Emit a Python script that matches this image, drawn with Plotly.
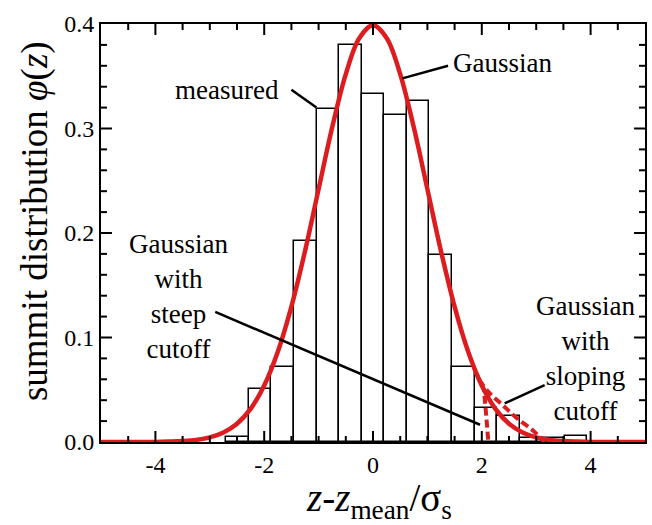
import plotly.graph_objects as go

# ---- data ----
bin_centers = [-2.49, -2.075, -1.66, -1.245, -0.83, -0.415, 0.0, 0.415, 0.83,
               1.245, 1.66, 2.075, 2.49, 2.905, 3.32, 3.735]
measured = [0.005, 0.051, 0.072, 0.192, 0.319, 0.380, 0.333, 0.313, 0.326,
            0.179, 0.072, 0.033, 0.025, 0.004, 0.004, 0.006]
bin_width = 0.415

gauss_x = [-5.0, -4.5, -4.0, -3.75, -3.5, -3.25, -3.0, -2.75, -2.5, -2.25, -2.0,
           -1.75, -1.5, -1.25, -1.0, -0.75, -0.5, -0.25, 0.0, 0.25, 0.5, 0.75,
           1.0, 1.25, 1.5, 1.75, 2.0, 2.25, 2.5, 2.75, 3.0, 3.25, 3.5, 3.75,
           4.0, 4.5, 5.0]
gauss_y = [0.0, 0.0, 0.0001, 0.0004, 0.0009, 0.0020, 0.0044, 0.0091, 0.0175,
           0.0317, 0.0540, 0.0863, 0.1295, 0.1826, 0.2420, 0.3011, 0.3521,
           0.3867, 0.3989, 0.3867, 0.3521, 0.3011, 0.2420, 0.1826, 0.1295,
           0.0863, 0.0540, 0.0317, 0.0175, 0.0091, 0.0044, 0.0020, 0.0009,
           0.0004, 0.0001, 0.0, 0.0]

steep_x = [1.9, 2.0, 2.04, 2.08, 2.12]
steep_y = [0.0656, 0.054, 0.050, 0.026, 0.0]

slope_x = [1.95, 2.12, 2.39, 2.64, 2.94, 3.08, 3.15]
slope_y = [0.0596, 0.048, 0.035, 0.023, 0.011, 0.004, 0.0]

x_tick_vals = [-4, -2, 0, 2, 4]
x_tick_text = ["-4", "-2", "0", "2", "4"]
y_tick_vals = [0.0, 0.1, 0.2, 0.3, 0.4]
y_tick_text = ["0.0", "0.1", "0.2", "0.3", "0.4"]
x_range = [-5, 5]
y_range = [0, 0.4]
x_minor_step = 0.5
y_minor_step = 0.02

RED = "#dc1c1e"
FONT = "Liberation Serif"

W, H = 652, 525
M = dict(l=101, r=5, t=24, b=83)
plot_w = W - M["l"] - M["r"]
plot_h = H - M["t"] - M["b"]
# data units per pixel, used to size the inward tick marks
x_per_px = (x_range[1] - x_range[0]) / plot_w
y_per_px = (y_range[1] - y_range[0]) / plot_h

fig = go.Figure()
fig.add_trace(go.Bar(x=bin_centers, y=measured, width=bin_width,
                     marker=dict(color="white", line=dict(color="black", width=1.5)),
                     showlegend=False))
fig.add_trace(go.Scatter(x=gauss_x, y=gauss_y, mode="lines",
                         line=dict(color=RED, width=4.5, shape="spline"),
                         showlegend=False))
fig.add_trace(go.Scatter(x=steep_x, y=steep_y, mode="lines",
                         line=dict(color=RED, width=4, dash="8px,4px"),
                         showlegend=False))
fig.add_trace(go.Scatter(x=slope_x, y=slope_y, mode="lines",
                         line=dict(color=RED, width=4, dash="8px,4px", shape="spline"),
                         showlegend=False))

# pointer lines
pointers = [(-1.50, 0.337, -1.04, 0.320),
            (1.38, 0.360, 0.54, 0.348),
            (-2.90, 0.1245, 1.967, 0.0165),
            (3.155, 0.0545, 2.42, 0.037)]
for x0, y0, x1, y1 in pointers:
    fig.add_shape(type="line", xref="x", yref="y", x0=x0, y0=y0, x1=x1, y1=y1,
                  line=dict(color="black", width=2.5))


# inward tick marks on all four sides
def steps(lo, hi, step):
    n = int(round((hi - lo) / step))
    return [round(lo + i * step, 6) for i in range(1, n)]


tick_line = dict(color="black", width=2)
for v in steps(x_range[0], x_range[1], x_minor_step):
    px = 11 if any(abs(v - m) < 1e-9 for m in x_tick_vals) else 6
    d = px * y_per_px
    fig.add_shape(type="line", xref="x", yref="y", x0=v, x1=v,
                  y0=y_range[0], y1=y_range[0] + d, line=tick_line)
    fig.add_shape(type="line", xref="x", yref="y", x0=v, x1=v,
                  y0=y_range[1], y1=y_range[1] - d, line=tick_line)
for v in steps(y_range[0], y_range[1], y_minor_step):
    px = 11 if any(abs(v - m) < 1e-9 for m in y_tick_vals) else 6
    d = px * x_per_px
    fig.add_shape(type="line", xref="x", yref="y", y0=v, y1=v,
                  x0=x_range[0], x1=x_range[0] + d, line=tick_line)
    fig.add_shape(type="line", xref="x", yref="y", y0=v, y1=v,
                  x0=x_range[1], x1=x_range[1] - d, line=tick_line)

tf = dict(family=FONT, size=27, color="black")
fig.add_annotation(x=-2.69, y=0.337, text="measured", showarrow=False,
                   xanchor="center", yanchor="middle", font=tf)
fig.add_annotation(x=1.425, y=0.3627, text="Gaussian", showarrow=False,
                   xanchor="left", yanchor="middle", font=tf)
fig.add_annotation(x=-3.58, y=0.139, text="Gaussian<br>with<br>steep<br>cutoff",
                   showarrow=False, xanchor="center", yanchor="middle", font=tf)
fig.add_annotation(x=3.91, y=0.080, text="Gaussian<br>with<br>sloping<br>cutoff",
                   showarrow=False, xanchor="center", yanchor="middle", font=tf)

# axis titles
fig.add_annotation(xref="paper", yref="paper", x=0.511, y=-0.14,
                   text="<i>z</i>-<i>z</i><sub>mean</sub>/σ<sub>s</sub>",
                   showarrow=False, xanchor="center", yanchor="middle",
                   font=dict(family=FONT, size=39, color="black"))
fig.add_annotation(xref="paper", yref="paper", x=-0.121, y=0.529,
                   text="summit distribution <i>φ</i>(<i>z</i>)", textangle=-90,
                   showarrow=False, xanchor="center", yanchor="middle",
                   font=dict(family=FONT, size=37, color="black"))

tickfont = dict(family=FONT, size=24, color="black")

fig.update_layout(
    width=W, height=H, margin=M,
    plot_bgcolor="white", paper_bgcolor="white", bargap=0,
    font=dict(family=FONT),
    xaxis=dict(range=x_range, tickmode="array", tickvals=x_tick_vals,
               ticktext=x_tick_text, tickfont=tickfont, ticks="",
               showline=True, linecolor="black", linewidth=2, mirror=True,
               showgrid=False, zeroline=False),
    yaxis=dict(range=y_range, tickmode="array", tickvals=y_tick_vals,
               ticktext=y_tick_text, tickfont=tickfont, ticks="",
               showline=True, linecolor="black", linewidth=2, mirror=True,
               showgrid=False, zeroline=False),
)

fig.write_html("out.html")
